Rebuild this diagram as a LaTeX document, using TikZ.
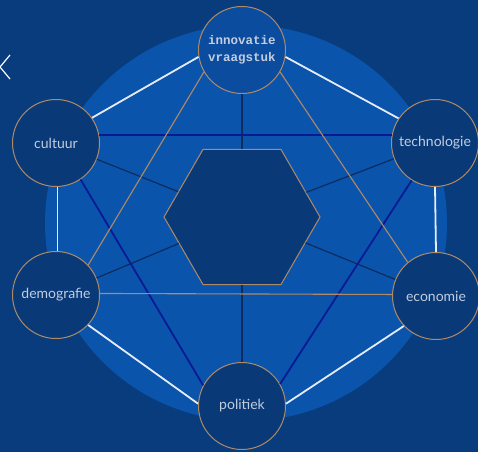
\documentclass[tikz,border=0pt]{standalone}
\usepackage{fontspec}
\setmainfont{Lato}
\newfontfamily\slabfont{Liberation Mono}
\usetikzlibrary{shapes.geometric}

\definecolor{bgblue}{HTML}{083C7D}
\definecolor{discblue}{HTML}{0B54AC}
\definecolor{nodeblue}{HTML}{093A77}
\definecolor{topblue}{HTML}{0C4C9E}
\definecolor{tanline}{HTML}{B08A66}
\definecolor{edgewhite}{HTML}{E6ECF6}
\definecolor{deepblue}{HTML}{0A1A94}
\definecolor{spoke}{HTML}{0A2C5E}
\definecolor{labelgrey}{HTML}{C2CDE0}

\tikzset{
  theme/.style={circle, draw=tanline, line width=1pt, fill=nodeblue, minimum size=87pt,
    inner sep=0pt, text=labelgrey, font=\fontsize{14}{16}\selectfont},
  outer/.style={edgewhite, line width=1.8pt},
  cross/.style={deepblue, line width=1.8pt},
  tri/.style={tanline, line width=1.1pt},
  spokeline/.style={spoke, line width=1.2pt}
}

\begin{document}
\begin{tikzpicture}[x=1pt,y=-1pt]
\useasboundingbox (0,0) rectangle (478,452);
\fill[bgblue] (0,0) rectangle (478,452);
\fill[discblue] (246,223) ellipse [x radius=201, y radius=198];
\draw[white, line width=1.2pt] (10,55) -- (0,67) -- (10,79);

\path
(242,217) node[regular polygon, regular polygon sides=6, minimum size=156pt, inner sep=0pt,
  draw=tanline, line width=1pt, fill=nodeblue] (hex) {}
(242,50) node[theme, fill=topblue, align=center,
  font=\slabfont\bfseries\fontsize{12.5}{17}\selectfont] (vraag) {innovatie\\vraagstuk}
(56,143) node[theme] (cultuur) {cultuur}
(435,143) node[theme] (techno) {technologie}
(56,295) node[theme] (demo) {demografie}
(436,296) node[theme] (econ) {economie}
(242,406) node[theme] (polit) {politiek};

% spokes to the centre
\draw[spokeline] (vraag) -- (hex);
\draw[spokeline] (cultuur) -- (hex);
\draw[spokeline] (techno) -- (hex);
\draw[spokeline] (demo) -- (hex);
\draw[spokeline] (econ) -- (hex);
\draw[spokeline] (polit) -- (hex);

\draw[cross] (cultuur.11) -- (techno.169);
\draw[cross] (cultuur.-56) -- (polit.152);
\draw[cross] (techno.-122) -- (polit.30);

\draw[tri] (vraag.-150) -- (demo.43);
\draw[tri] (vraag.-30) -- (econ.130);
\draw[tri] (demo.2) -- (econ.178);

% outer ring
\draw[outer] (vraag.189) -- (cultuur.35);
\draw[outer] (vraag.-9) -- (techno.146);
\draw[outer] (cultuur.-88) -- (demo.88);
\draw[outer] (techno.-90) -- (econ.90);
\draw[outer] (demo.-43) -- (polit.177);
\draw[outer] (econ.-137) -- (polit.3);
\end{tikzpicture}
\end{document}
